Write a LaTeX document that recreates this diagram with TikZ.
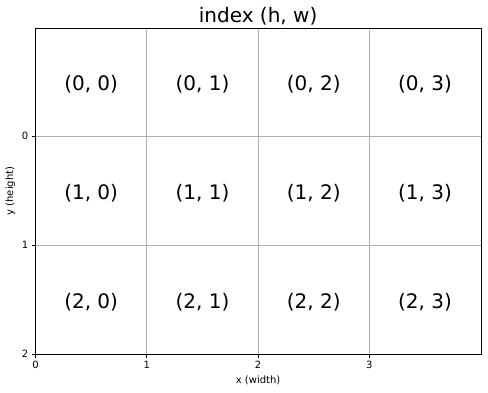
\documentclass[tikz,border=0pt]{standalone}
\usepackage{fontspec}
\setmainfont{DejaVu Sans}
\begin{document}
\begin{tikzpicture}[x=1pt,y=-1pt,
  gridline/.style={draw=black!31,line width=0.8pt},
  spine/.style={draw=black,line width=0.8pt},
  tickmark/.style={draw=black,line width=0.8pt},
  ticklabel/.style={font=\fontsize{10}{12}\selectfont,inner sep=0pt},
  celltext/.style={font=\fontsize{20}{24}\selectfont,inner sep=0pt,anchor=center}]
\useasboundingbox[fill=white] (0,0) rectangle (488,392);
% grid
\foreach \gx in {146.8,258.1,369.4} \draw[gridline] (\gx,28.5) -- (\gx,354);
\foreach \gy in {136.3,245.2} \draw[gridline] (35.5,\gy) -- (481,\gy);
% spines
\draw[spine] (35.5,28.5) rectangle (481,354);
% x ticks
\foreach \gx/\lab in {35.5/0,146.8/1,258.1/2,369.4/3}{
  \draw[tickmark] (\gx,354) -- (\gx,357.5);
  \node[ticklabel,anchor=north] (xt\lab) at (\gx,361) {\lab};
}
% y ticks
\foreach \gy/\lab in {136.3/0,245.2/1,354/2}{
  \draw[tickmark] (35.5,\gy) -- (32,\gy);
  \node[ticklabel,anchor=east] (yt\lab) at (28.5,\gy) {\lab};
}
% axis labels
\node[ticklabel,anchor=base] (xlab) at (258.1,383) {x (width)};
\node[ticklabel,anchor=base,rotate=90] (ylab) at (13,191) {y (height)};
% title
\node[font=\fontsize{20}{24}\selectfont,inner sep=0pt,anchor=base] (title) at (258.1,22.5) {index (h, w)};
% cells
\foreach \i in {0,1,2}{
  \foreach \j in {0,1,2,3}{
    \pgfmathsetmacro{\cx}{35.5+111.3*(\j+0.5)}
    \pgfmathsetmacro{\cy}{136.3+108.85*(\i-0.5)+2.5}
    \node[celltext] (c\i\j) at (\cx,\cy) {(\i, \j)};
  }
}
\end{tikzpicture}
\end{document}
